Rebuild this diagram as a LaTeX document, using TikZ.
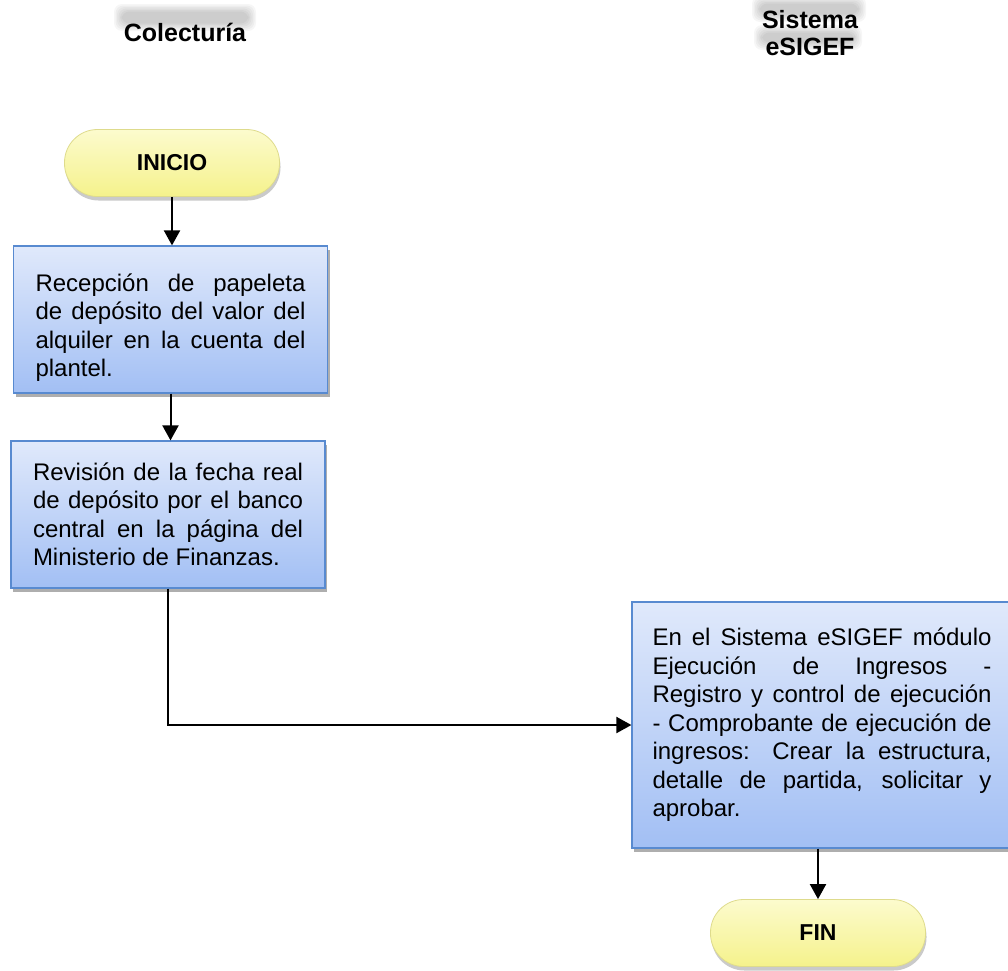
\documentclass[tikz,border=0pt]{standalone}
\usepackage{fontspec}
\setmainfont{Liberation Sans}
\usetikzlibrary{arrows.meta,positioning,shadows}

\definecolor{boxtop}{RGB}{224,233,251}
\definecolor{boxbot}{RGB}{162,191,244}
\definecolor{boxline}{RGB}{88,138,208}
\definecolor{termfill}{RGB}{245,242,140}
\definecolor{termtop}{RGB}{252,251,205}
\definecolor{termline}{RGB}{222,219,140}

\tikzset{
  proceso/.style={draw=boxline, line width=1.2pt, top color=boxtop, bottom color=boxbot,
    align=justify, inner xsep=22pt, font=\fontsize{24}{28.5}\selectfont,
    drop shadow={shadow xshift=2pt, shadow yshift=-4pt, opacity=0.45, fill=black!70}},
  terminal/.style={draw=termline, line width=0.8pt, rounded corners=33pt,
    top color=termtop, bottom color=termfill, minimum width=215pt, minimum height=67pt,
    font=\fontsize{23}{27}\selectfont\bfseries,
    drop shadow={shadow xshift=1pt, shadow yshift=-4pt, opacity=0.35, fill=black!60}},
  encabezado/.style={align=center, font=\fontsize{25}{27}\selectfont\bfseries},
  flecha/.style={-{Triangle[length=15pt,width=16pt]}, line width=2pt},
  halo/.style={fill=black, opacity=0.035, rounded corners=8pt},
}

\begin{document}
\begin{tikzpicture}[x=1pt,y=-1pt]
  \useasboundingbox (0,0) rectangle (1008,970);

  % soft haze behind the column headers
  \foreach \s in {0,1.5,...,7.5} {
    \fill[halo] (114+\s,4+\s) rectangle (256-\s,31-\s);
    \fill[halo] (752+\s,-4+\s) rectangle (866-\s,22-\s);
    \fill[halo] (754+\s,25+\s) rectangle (862-\s,50-\s);
  }

  % column headers
  \node[encabezado] (colect) at (185,32) {Colecturía};
  \node[encabezado] (sistema) at (810,33) {Sistema\\eSIGEF};

  % flow
  \node[terminal] (inicio) at (172,163) {INICIO};

  \node[proceso, text width=270pt, minimum height=147pt] (recep) at (170.5,319.5)
    {\rule{0pt}{34pt}Recepción de papeleta\linebreak de depósito del valor del\linebreak
     alquiler en la cuenta del\linebreak plantel.};

  \node[proceso, text width=270pt, minimum height=147pt] (revis) at (168,514.5)
    {Revisión de la fecha real\linebreak de depósito por el banco\linebreak
     central en la página del\linebreak Ministerio de Finanzas.};

  \node[proceso, text width=339pt, inner xsep=20.5pt, minimum height=246pt] (esigef) at (822,725)
    {En el Sistema eSIGEF módulo\linebreak Ejecución de Ingresos -\linebreak
     Registro y control de ejecución\linebreak - Comprobante de ejecución de\linebreak
     ingresos: Crear la estructura,\linebreak detalle de partida, solicitar y\linebreak
     aprobar.};

  \node[terminal] (fin) at (818,933) {FIN};

  % connectors
  \draw[flecha] (inicio.south) -- (inicio.south |- recep.north);
  \draw[flecha] (recep.south) -- (recep.south |- revis.north);
  \draw[flecha] (revis.south) |- (esigef.west);
  \draw[flecha] (fin.north |- esigef.south) -- (fin.north);
\end{tikzpicture}
\end{document}
